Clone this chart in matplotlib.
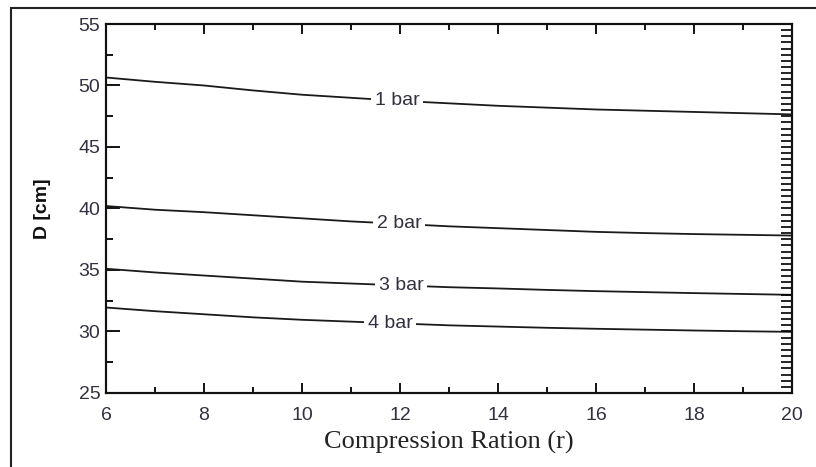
import matplotlib

matplotlib.use("Agg")

import matplotlib.pyplot as plt
import numpy as np
from matplotlib.patches import Rectangle
from matplotlib.ticker import MultipleLocator

# Compression ratio (x) and bore diameter D [cm] for each intake pressure
r = [6, 7, 8, 9, 10, 11, 12, 13, 14, 15, 16, 17, 18, 19, 20]
d_1bar = [50.65, 50.3, 50.0, 49.6, 49.25, 49.0, 48.75, 48.55, 48.35, 48.2, 48.05, 47.95, 47.85, 47.75, 47.65]
d_2bar = [40.2, 39.9, 39.7, 39.45, 39.2, 38.95, 38.75, 38.55, 38.4, 38.25, 38.1, 38.0, 37.92, 37.86, 37.8]
d_3bar = [35.1, 34.8, 34.55, 34.3, 34.05, 33.9, 33.75, 33.6, 33.5, 33.38, 33.28, 33.2, 33.12, 33.05, 32.98]
d_4bar = [31.95, 31.65, 31.4, 31.15, 30.95, 30.8, 30.65, 30.5, 30.4, 30.3, 30.22, 30.15, 30.08, 30.02, 29.97]

series = [d_1bar, d_2bar, d_3bar, d_4bar]
labels = ["1 bar", "2 bar", "3 bar", "4 bar"]
label_r = [11.94, 11.98, 12.02, 11.8]

text_col = "#33303f"

fig = plt.figure(figsize=(8.16, 4.67), dpi=100)
ax = fig.add_axes([0.1299, 0.1585, 0.8407, 0.7901])

for d, lab, lr in zip(series, labels, label_r):
    ax.plot(r, d, color="#1a1a1a", lw=1.3)
    ax.text(lr, np.interp(lr, r, d), lab, ha="center", va="center",
            fontsize=14, color=text_col, family="Liberation Sans",
            bbox=dict(facecolor="white", edgecolor="none", pad=2.5))

ax.set_xlim(6, 20)
ax.set_ylim(25, 55)
ax.xaxis.set_major_locator(MultipleLocator(2))
ax.xaxis.set_minor_locator(MultipleLocator(1))
ax.yaxis.set_major_locator(MultipleLocator(5))
ax.yaxis.set_minor_locator(MultipleLocator(2.5))

ax.tick_params(axis="x", which="both", direction="in", top=True, width=1.3,
               labelsize=14, labelcolor=text_col, pad=10)
ax.tick_params(axis="x", which="major", length=7)
ax.tick_params(axis="x", which="minor", length=4)
ax.tick_params(axis="y", which="both", direction="in", right=False, width=1.3,
               labelsize=14, labelcolor=text_col, pad=4)
ax.tick_params(axis="y", which="major", length=10)
ax.tick_params(axis="y", which="minor", length=5)
for lbl in ax.get_xticklabels() + ax.get_yticklabels():
    lbl.set_family("Liberation Sans")

# right axis carries only dense minor ticks
ax_r = ax.twinx()
ax_r.set_ylim(25, 55)
ax_r.set_yticks(np.arange(25, 55.01, 0.5))
ax_r.tick_params(axis="y", direction="in", length=8, width=1.2, labelright=False)

for a in (ax, ax_r):
    for s in a.spines.values():
        s.set_linewidth(1.5)
        s.set_color("#111111")

ax.set_xlabel("Compression Ration (r)", family="Liberation Serif", fontsize=19,
              color="#222222", labelpad=5)
ax.set_ylabel("D [cm]", family="Liberation Sans", fontweight="bold", fontsize=14,
              color="#111111", labelpad=20)

# outer frame around the whole picture
fig.patches.append(Rectangle((11 / 816, -0.05), 1.0, 1 - 8 / 467 + 0.05,
                             transform=fig.transFigure, fill=False,
                             edgecolor="#222222", lw=1.5))

fig.savefig("out.png", dpi=100)
